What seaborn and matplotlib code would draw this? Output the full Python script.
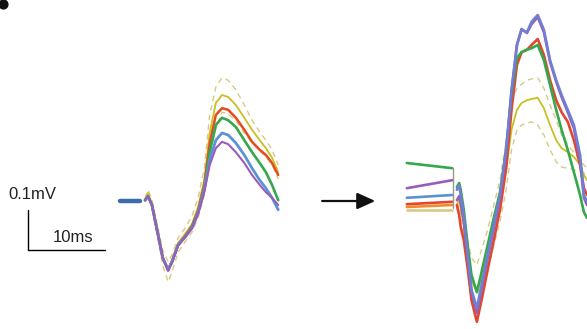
import matplotlib
matplotlib.use("Agg")
import matplotlib.pyplot as plt
import seaborn as sns
import pandas as pd

# time points (ms after stimulus) for the two recordings
t_before = [0, 0.4, 0.9, 1.7, 2.3, 3.0, 3.5, 4.3, 5.2, 6.1, 6.9, 7.7, 8.4, 9.2, 10.0,
            10.8, 11.8, 12.9, 13.9, 14.9, 15.7, 16.5, 17.3]
t_after = [0, 0.3, 0.5, 0.9, 1.4, 1.9, 2.6, 3.2, 4.0, 4.8, 5.6, 6.4, 7.1, 7.8, 8.4,
           9.1, 9.7, 10.5, 11.3, 12.1, 12.9, 13.6, 14.4, 15.2, 16.0, 16.5, 16.9]

# field potentials (uV), before
before_purple = [2, 12, -10, -85, -142, -175, -155, -112, -90, -68, -32, 22, 90, 132, 148,
                 142, 122, 95, 65, 40, 22, 8, -10]
before_blue = [2, 12, -10, -85, -142, -172, -152, -110, -90, -68, -30, 28, 102, 152, 170,
               165, 145, 115, 82, 52, 32, 8, -22]
before_green = [2, 12, -10, -85, -142, -172, -152, -110, -90, -65, -28, 32, 122, 190, 208,
                202, 185, 152, 122, 95, 72, 40, 2]
before_red = [2, 12, -10, -85, -142, -172, -152, -108, -88, -62, -22, 42, 145, 215, 232,
              228, 208, 178, 148, 128, 115, 95, 65]
before_yellow = [2, 20, -8, -80, -140, -170, -150, -105, -82, -58, -15, 52, 170, 245, 265,
                 260, 240, 208, 178, 152, 132, 108, 72]
before_upper = [8, 28, 2, -68, -122, -152, -135, -92, -68, -38, 8, 82, 215, 285, 308,
                302, 278, 240, 202, 172, 152, 128, 90]
before_lower = [-2, 12, -18, -98, -160, -202, -178, -128, -102, -78, -42, 15, 115, 180, 222,
                218, 200, 170, 145, 125, 110, 90, 55]

# field potentials (uV), after
after_blue = [28, 40, 15, -35, -135, -222, -268, -210, -135, -60, 15, 128, 278, 390, 428,
              422, 448, 465, 428, 352, 302, 265, 228, 190, 115, 15, -2]
after_purple = [2, 12, -5, -52, -142, -228, -280, -222, -142, -68, 8, 122, 272, 390, 430,
                420, 442, 460, 422, 348, 298, 260, 222, 182, 102, 8, -10]
after_red = [-10, -35, -65, -98, -168, -248, -302, -248, -172, -98, -22, 82, 228, 340, 372,
             378, 390, 405, 365, 302, 252, 222, 198, 152, 90, 32, 15]
after_green = [35, 45, 28, -22, -110, -185, -228, -178, -110, -42, 22, 128, 265, 358, 372,
               378, 382, 390, 352, 290, 228, 178, 128, 72, 15, -28, -42]
after_yellow = [-10, 2, -18, -60, -135, -198, -228, -192, -135, -72, -10, 78, 178, 228, 245,
                252, 255, 258, 232, 190, 152, 132, 122, 110, 90, 65, 52]
after_upper = [2, 12, -8, -42, -98, -142, -160, -122, -72, -10, 52, 152, 252, 282, 292,
               302, 305, 308, 282, 240, 202, 165, 140, 122, 102, 90, 82]
after_lower = [-22, -10, -28, -85, -168, -235, -260, -222, -168, -110, -52, 28, 128, 178, 190,
               195, 198, 190, 165, 128, 98, 85, 82, 78, 72, 70, 65]

# pre-stimulus baselines (start, end) in uV
base_t = [-6.5, -0.6]
base_green = [95, 82]
base_purple = [32, 52]
base_blue = [8, 15]
base_red = [-8, -2]
base_orange = [-15, -10]
base_yellow = [-22, -22]

c_purple = "#9a5cb8"
c_blue = "#5b92d6"
c_green = "#35a84c"
c_red = "#e2472c"
c_orange = "#f08c2c"
c_yellow = "#c9bf22"
c_dash = "#d9c985"

shift = 40.5  # ms offset of second recording on the page

sns.set_style("white")
plt.rcParams["font.family"] = ["Liberation Sans", "DejaVu Sans"]

fig = plt.figure(figsize=(5.87, 3.29), dpi=100)
ax = fig.add_axes([0, 0, 1, 1])


def trace(t, v, color, lw=1.6, ls="-", off=0.0, alpha=1.0):
    df = pd.DataFrame({"t": [x + off for x in t], "v": v})
    sns.lineplot(data=df, x="t", y="v", color=color, lw=lw, ls=ls, sort=False,
                 estimator=None, ax=ax, alpha=alpha)


# before
trace([-3.2, -0.6], [0, 0], "#3c6caa", lw=3.2)
trace(t_before, before_upper, c_dash, lw=1.0, ls=(0, (4, 3)))
trace(t_before, before_lower, c_dash, lw=1.0, ls=(0, (4, 3)))
trace(t_before, before_yellow, c_yellow, lw=1.3)
trace(t_before, before_red, c_orange, lw=1.9)
trace(t_before, before_red, c_red, lw=1.4)
trace(t_before, before_green, c_green, lw=1.9)
trace(t_before, before_blue, c_blue, lw=2.0)
trace(t_before, before_purple, c_purple, lw=1.5)

# after
for b, c in [(base_yellow, c_dash), (base_orange, c_orange), (base_red, c_red),
             (base_blue, c_blue), (base_purple, c_purple), (base_green, c_green)]:
    trace(base_t, b, c, lw=1.9, off=shift)
trace([-0.5, -0.5], [82, -18], "#9a9a80", lw=1.0, off=shift)
trace(t_after, after_upper, c_dash, lw=1.0, ls=(0, (4, 3)), off=shift)
trace(t_after, after_lower, c_dash, lw=1.0, ls=(0, (4, 3)), off=shift)
trace(t_after, after_yellow, c_yellow, lw=1.3, off=shift)
trace(t_after, after_red, c_red, lw=1.9, off=shift)
trace(t_after, after_green, c_green, lw=1.9, off=shift)
trace(t_after, after_purple, c_purple, lw=1.9, off=shift)
trace(t_after, after_blue, "#6f7fd2", lw=1.9, off=shift)

# scale bar
ax.plot([-15.2, -15.2, -5.2], [-22.5, -122.5, -122.5], color="black", lw=1.0)
ax.text(-17.8, 15, "0.1mV", fontsize=12, ha="left", va="center", color="#222222")
ax.text(-9.4, -92, "10ms", fontsize=12, ha="center", va="center", color="#222222")

# arrow between recordings
ax.annotate("", xy=(29.9, 0), xytext=(23.0, 0),
            arrowprops=dict(arrowstyle="-|>,head_length=1.1,head_width=0.5",
                            color="#111111", lw=1.6, shrinkA=0, shrinkB=0))

# corner mark left over from the cropped panel letter
ax.scatter([-18.5], [492], s=40, color="#111111", marker="o", clip_on=False)

ax.set_xlim(-18.83, 57.4)
ax.set_ylim(-320, 502.5)
ax.set_axis_off()

fig.savefig("out.png", dpi=100)
